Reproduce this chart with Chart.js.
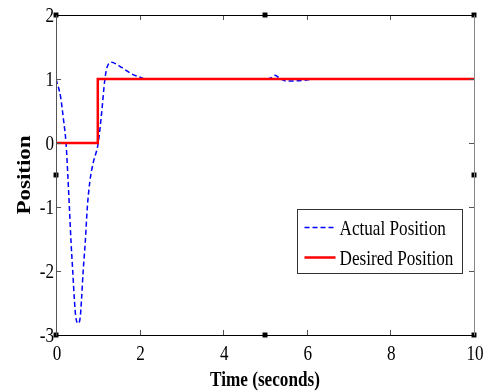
<!DOCTYPE html>
<html>
<head>
<meta charset="utf-8">
<script src="https://cdn.jsdelivr.net/npm/chart.js@4/dist/chart.umd.min.js"></script>
<style>
html,body{margin:0;padding:0;background:#fff;}
#wrap{width:489px;height:392px;position:relative;}
</style>
</head>
<body>
<div id="wrap"><canvas id="c" width="489" height="392"></canvas></div>
<script>
// ---- data ----
const actualT = [0,0.11,0.18,0.24,0.28,0.32,0.36,0.40,0.44,0.47,0.53,0.58,0.61,0.65,0.70,0.75,0.81,0.89,1.01,1.09,1.17,1.22,1.33,1.45,1.57,1.81,2.0,2.15,5.0,5.15,5.24,5.35,5.5,5.7,6.0,6.2,10];
const actualY = [1,0.72,0.36,0,-0.47,-1,-1.55,-2,-2.45,-2.7,-2.82,-2.72,-2.45,-2,-1.55,-1,-0.6,-0.31,0,0.46,1,1.18,1.26,1.23,1.18,1.08,1.03,1.0,1.0,1.02,1.06,1.01,0.97,0.97,0.985,1.0,1.0];
const desiredT = [0,1,1,10];
const desiredY = [0,0,1,1];
const handleT = [0,5,10,0,10,0,5,10];
const handleY = [2,2,2,-0.5,-0.5,-3,-3,-3];
const xTicks = [0,2,4,6,8,10];
const yTicks = [-3,-2,-1,0,1,2];
const seriesNames = ['Actual Position','Desired Position'];
const xTitle = 'Time (seconds)';
const yTitle = 'Position';

const zip = (a,b)=>a.map((v,i)=>({x:v,y:b[i]}));
const FONT = "'Liberation Serif','Times New Roman',serif";
const HS = 0.78; // horizontal squeeze of the original figure

function squeezedText(ctx,text,x,y,align,font,hs){
  ctx.save();
  ctx.translate(x,y);
  ctx.scale(hs,1);
  ctx.font=font;
  ctx.textAlign=align;
  ctx.textBaseline='middle';
  ctx.fillStyle='#000';
  ctx.fillText(text,0,0);
  ctx.restore();
}

const frame = {
  id:'frame',
  afterDatasetsDraw(chart){
    const {ctx, chartArea:a, scales:{x,y}} = chart;
    ctx.save();
    ctx.lineWidth = 1;
    ctx.strokeStyle = '#555';
    x.ticks.forEach(t=>{
      const px = Math.round(x.getPixelForValue(t.value))+0.5;
      ctx.beginPath(); ctx.moveTo(px,a.bottom); ctx.lineTo(px,a.bottom-5); ctx.stroke();
      ctx.beginPath(); ctx.moveTo(px,a.top); ctx.lineTo(px,a.top+5); ctx.stroke();
    });
    y.ticks.forEach(t=>{
      const py = Math.round(y.getPixelForValue(t.value))+0.5;
      ctx.beginPath(); ctx.moveTo(a.left,py); ctx.lineTo(a.left+5,py); ctx.stroke();
      ctx.beginPath(); ctx.moveTo(a.right,py); ctx.lineTo(a.right-5,py); ctx.stroke();
    });
    const L=Math.round(a.left)+0.5,R=Math.round(a.right)+0.5,T=Math.round(a.top)+0.5,B=Math.round(a.bottom)+0.5;
    ctx.strokeStyle='#000';
    ctx.beginPath(); ctx.moveTo(L,T); ctx.lineTo(R,T); ctx.stroke();
    ctx.beginPath(); ctx.moveTo(L,B); ctx.lineTo(R,B); ctx.stroke();
    ctx.strokeStyle='#555';
    ctx.beginPath(); ctx.moveTo(L,T); ctx.lineTo(L,B); ctx.stroke();
    ctx.strokeStyle='#888';
    ctx.beginPath(); ctx.moveTo(R,T); ctx.lineTo(R,B); ctx.stroke();
    ctx.restore();

    // tick labels
    const tf = "22px "+FONT;
    x.ticks.forEach(t=>{
      squeezedText(ctx,String(t.value),x.getPixelForValue(t.value)+1,a.bottom+19,'center',tf,HS);
    });
    y.ticks.forEach(t=>{
      squeezedText(ctx,String(t.value),a.left-2,y.getPixelForValue(t.value)+1,'right',tf,HS);
    });
    // axis titles
    squeezedText(ctx,xTitle,(a.left+a.right)/2,380,'center',"bold 22px "+FONT,HS);
    ctx.save();
    ctx.translate(25,(a.top+a.bottom)/2);
    ctx.rotate(-Math.PI/2);
    ctx.scale(1,0.85);
    ctx.font="bold 23px "+FONT;
    ctx.textAlign='center'; ctx.textBaseline='middle'; ctx.fillStyle='#000';
    ctx.fillText(yTitle,0,0);
    ctx.restore();
  },
  afterDraw(chart){
    const {ctx} = chart;
    const ds = chart.data.datasets.filter(d=>!d.hideLegend);
    const bx=297.5, by=209.5, bw=165, bh=64;
    ctx.save();
    ctx.fillStyle='#fff';
    ctx.fillRect(bx,by,bw,bh);
    ctx.strokeStyle='#333'; ctx.lineWidth=1;
    ctx.strokeRect(bx,by,bw,bh);
    ds.forEach((d,i)=>{
      const cy = Math.round(by+17+i*30)+0.5;
      ctx.strokeStyle=d.borderColor; ctx.lineWidth=d.borderWidth;
      ctx.setLineDash(d.borderDash||[]);
      ctx.beginPath(); ctx.moveTo(bx+7,cy); ctx.lineTo(bx+38,cy); ctx.stroke();
      ctx.setLineDash([]);
      squeezedText(ctx,d.label,bx+42,cy+2,'left',"22px "+FONT,HS);
    });
    ctx.restore();
  }
};

new Chart(document.getElementById('c'),{
  type:'scatter',
  data:{datasets:[
    {label:seriesNames[0],data:zip(actualT,actualY),showLine:true,borderColor:'#0000ff',borderWidth:1.5,borderDash:[5,3],pointRadius:0,cubicInterpolationMode:'monotone',order:2},
    {label:seriesNames[1],data:zip(desiredT,desiredY),showLine:true,borderColor:'#ff0000',borderWidth:2.5,pointRadius:0,tension:0,order:1},
    {label:'handles',hideLegend:true,data:zip(handleT,handleY),showLine:false,pointStyle:'rect',pointRadius:3.5,backgroundColor:'#000',borderColor:'#000',borderWidth:0,clip:false,order:0}
  ]},
  options:{
    responsive:false,animation:false,
    layout:{padding:{left:0,right:15,top:15,bottom:0}},
    plugins:{legend:{display:false},tooltip:{enabled:false}},
    scales:{
      x:{type:'linear',min:0,max:10,
        afterBuildTicks(s){s.ticks=xTicks.map(v=>({value:v}));},
        grid:{display:false},border:{display:false},
        ticks:{display:false},
        title:{display:false,text:xTitle},
        afterFit(s){s.height=57;}
      },
      y:{type:'linear',min:-3,max:2,
        afterBuildTicks(s){s.ticks=yTicks.map(v=>({value:v}));},
        grid:{display:false},border:{display:false},
        ticks:{display:false},
        title:{display:false,text:yTitle},
        afterFit(s){s.width=56;}
      }
    }
  },
  plugins:[frame]
});
</script>
</body>
</html>
